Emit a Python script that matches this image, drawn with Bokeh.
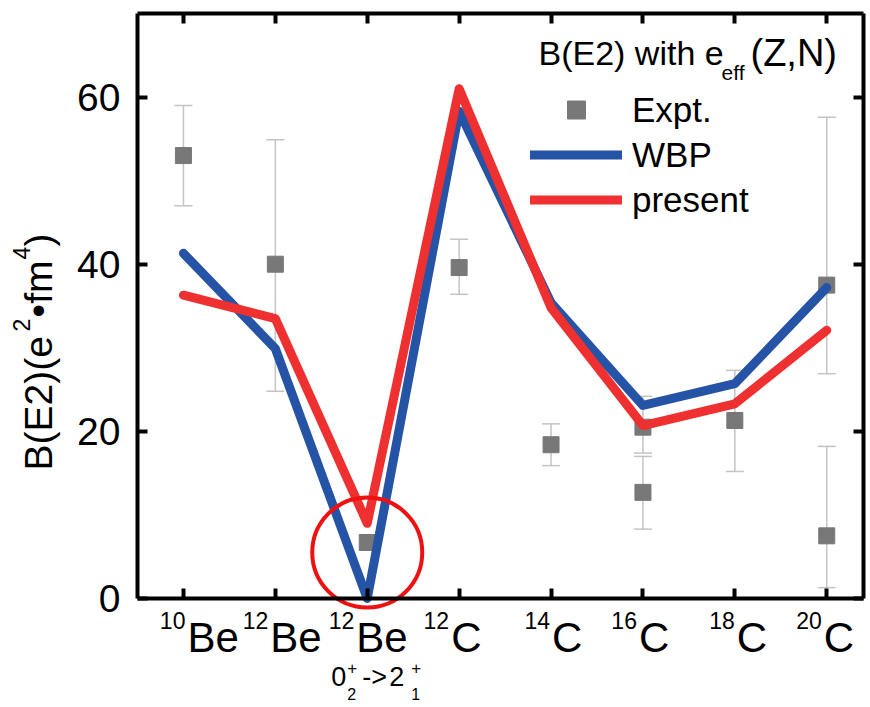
import math
from bokeh.plotting import figure
from bokeh.models import (Range1d, FixedTicker, LinearAxis, Label, Legend, LegendItem,
                          Whisker, TeeHead, ColumnDataSource)
from bokeh.embed import file_html
from bokeh.resources import INLINE

# ---------------- data ----------------
categories = ["10Be", "12Be", "12Be(0+2->2+1)", "12C", "14C", "16C", "18C", "20C"]
cat_sup = ["10", "12", "12", "12", "14", "16", "18", "20"]
cat_sym = ["Be", "Be", "Be", "C", "C", "C", "C", "C"]

wbp = [41.3, 29.9, 0.0, 58.3, 35.4, 23.1, 25.7, 37.2]
present = [36.3, 33.5, 9.0, 61.0, 34.8, 20.7, 23.3, 32.1]

expt_cat = ["10Be", "12Be", "12Be(0+2->2+1)", "12C", "14C", "16C", "16C", "18C", "20C", "20C"]
expt_val = [53.0, 40.0, 6.7, 39.6, 18.4, 20.5, 12.7, 21.3, 37.5, 7.5]
expt_upper = [59.0, 54.9, None, 43.0, 20.9, 24.2, 17.0, 27.3, 57.6, 18.2]
expt_lower = [47.0, 24.8, None, 36.4, 15.9, 17.4, 8.3, 15.2, 26.9, 1.3]

y_ticks = [0, 20, 40, 60]
y_tick_labels = ["0", "20", "40", "60"]
highlight_cat = "12Be(0+2->2+1)"
highlight_y = 5.5

# ---------------- layout constants ----------------
FONT = "Liberation Sans"
W, H = 870, 707
PX_L, PX_R, PX_T, PX_B = 137, 863, 13, 598      # plotting box in canvas pixels
X_START, X_END = -0.5, 7.40
Y_START, Y_END = 0, 70
SX = (PX_R - PX_L) / (X_END - X_START)
SY = (PX_B - PX_T) / (Y_END - Y_START)
CX0, CX1 = X_START - PX_L / SX, X_END + (W - PX_R) / SX
CY0, CY1 = Y_START - (H - PX_B) / SY, Y_END + PX_T / SY

BLUE = "#2553a6"
RED = "#ee3030"
GRAY = "#787878"
ERR = "#c4c4c4"

idx = list(range(len(categories)))
ex_x = [categories.index(c) for c in expt_cat]

p = figure(width=W, height=H, output_backend="svg", toolbar_location=None,
           x_range=Range1d(CX0, CX1), y_range=Range1d(CY0, CY1),
           x_axis_location=None, y_axis_location=None,
           min_border=0, min_border_left=0, min_border_right=0,
           min_border_top=0, min_border_bottom=0)
p.grid.visible = False
p.outline_line_color = None
p.background_fill_color = "white"
p.border_fill_color = "white"


def make_axis(ticks, loc, bounds):
    ax = LinearAxis(fixed_location=loc, bounds=bounds)
    ax.ticker = FixedTicker(ticks=ticks)
    ax.axis_line_width = 4
    ax.axis_line_color = "black"
    ax.major_tick_in = 10
    ax.major_tick_out = 0
    ax.major_tick_line_width = 4
    ax.major_tick_line_color = "black"
    ax.minor_tick_line_color = None
    ax.minor_tick_out = 0
    ax.major_label_standoff = 0
    ax.major_label_text_font_size = "0px"
    ax.major_label_overrides = {t: "" for t in ticks}
    return ax


p.add_layout(make_axis(idx, Y_START, (X_START, X_END)), "below")
p.add_layout(make_axis(idx, Y_END, (X_START, X_END)), "above")
p.add_layout(make_axis(y_ticks, X_START, (Y_START, Y_END)), "left")
p.add_layout(make_axis(y_ticks, X_END, (Y_START, Y_END)), "right")

# error bars
w_src = ColumnDataSource(data=dict(
    x=[x for x, u in zip(ex_x, expt_upper) if u is not None],
    upper=[u for u in expt_upper if u is not None],
    lower=[l for l in expt_lower if l is not None],
))
p.add_layout(Whisker(source=w_src, base="x", upper="upper", lower="lower",
                     line_color=ERR, line_width=1.5,
                     upper_head=TeeHead(size=18, line_color=ERR, line_width=1.5),
                     lower_head=TeeHead(size=18, line_color=ERR, line_width=1.5)))

sq = p.scatter(x=ex_x, y=expt_val, marker="square", size=16, fill_color=GRAY,
               line_color=GRAY)
lb = p.line(x=idx, y=wbp, line_color=BLUE, line_width=9, line_join="round", line_cap="round")
lr = p.line(x=idx, y=present, line_color=RED, line_width=9, line_join="round", line_cap="round")

p.scatter(x=[categories.index(highlight_cat)], y=[highlight_y], marker="circle", size=110,
          fill_color=None, line_color="#ee1111", line_width=4)

legend = Legend(items=[LegendItem(label="Expt.", renderers=[sq]),
                       LegendItem(label="WBP", renderers=[lb]),
                       LegendItem(label="present", renderers=[lr])],
                location=(530, H - 222), glyph_width=92, glyph_height=45, label_height=45,
                label_standoff=10, spacing=0, padding=0, border_line_color=None,
                background_fill_alpha=0, label_text_font=FONT, label_text_font_size="35px",
                label_text_color="black")
p.add_layout(legend)


def put(text, x, y, dx, dy, size, align="left", angle=0.0):
    # dy: pixel offset (up positive) of the vertical middle of the text
    p.add_layout(Label(x=x, y=y, x_offset=dx, y_offset=dy, text=text, angle=angle,
                       text_align=align, text_baseline="middle", text_font=FONT,
                       text_font_size=f"{size}px", text_color="black"))


# title inside plot: B(E2) with e_eff(Z,N)
put("B(E2) with e", X_END, Y_END, -325, -39.5, 34)
put("eff", X_END, Y_END, -142, -58.5, 21)
put("(Z,N)", X_END, Y_END, -113, -39.5, 38)

# y tick labels
for t, s in zip(y_ticks, y_tick_labels):
    put(s, X_START, t, -17, 0, 39, align="right")

# y axis title B(E2)(e^2 . fm^4), rotated, built bottom-to-top
ylabel_parts = [("B(E2)(e", 128, -99, 39), ("2", 267, -116, 23), ("•fm", 281, -99, 39),
                ("4", 339, -116, 23), (")", 352, -99, 39)]
for txt, dy, dx, fs in ylabel_parts:
    put(txt, X_START, Y_START, dx, dy, fs, angle=math.pi / 2)

# x tick labels with superscript mass numbers
label_nudge = [4, -5, -11, -8, 1, -4, 2, -3]
for i in idx:
    put(cat_sym[i], i, Y_START, label_nudge[i], -39, 42)
    put(cat_sup[i], i, Y_START, label_nudge[i] - 2, -21.5, 23, align="right")

# transition label 0_2^+ -> 2_1^+ under the excited 12Be
transition_parts = [("0", -36, -78, 27), ("2", -20, -95, 16), ("+", -20, -69, 17),
                    ("->", -5, -78, 27), ("2", 22, -78, 27), ("1", 44, -95, 16),
                    ("+", 44, -69, 17)]
ti = categories.index(highlight_cat)
for txt, dx, dy, fs in transition_parts:
    put(txt, ti, Y_START, dx, dy, fs)

open("out.html", "w").write(file_html(p, INLINE))
